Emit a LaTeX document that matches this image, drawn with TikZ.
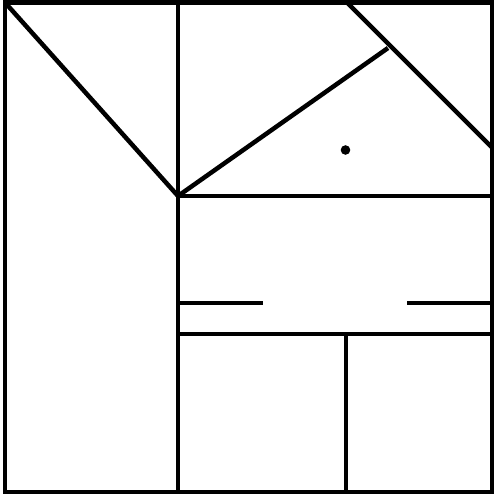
\documentclass[tikz,border=0pt]{standalone}
\begin{document}
\begin{tikzpicture}[x=1pt,y=-1pt,wall/.style={line width=4.5pt,black}]
\useasboundingbox (0,0) rectangle (496,495);
\coordinate (tl) at (5,2.5);
\coordinate (br) at (492,492);
\coordinate (j) at (178,196);
\coordinate (k) at (388,48);
\draw[wall] (tl) rectangle (br);
\draw[wall] (178,2.5) -- (178,492);
\draw[wall] (tl) -- (j);
\draw[wall] (j) -- (k);
\draw[wall] (347,2.5) -- (492,147.5);
\draw[wall] (j) -- (492,196);
\draw[wall] (178,303) -- (263,303);
\draw[wall] (407,303) -- (492,303);
\draw[wall] (178,334) -- (492,334);
\draw[wall] (346,334) -- (346,492);
\fill (345.5,150) circle (4.8);
\end{tikzpicture}
\end{document}
